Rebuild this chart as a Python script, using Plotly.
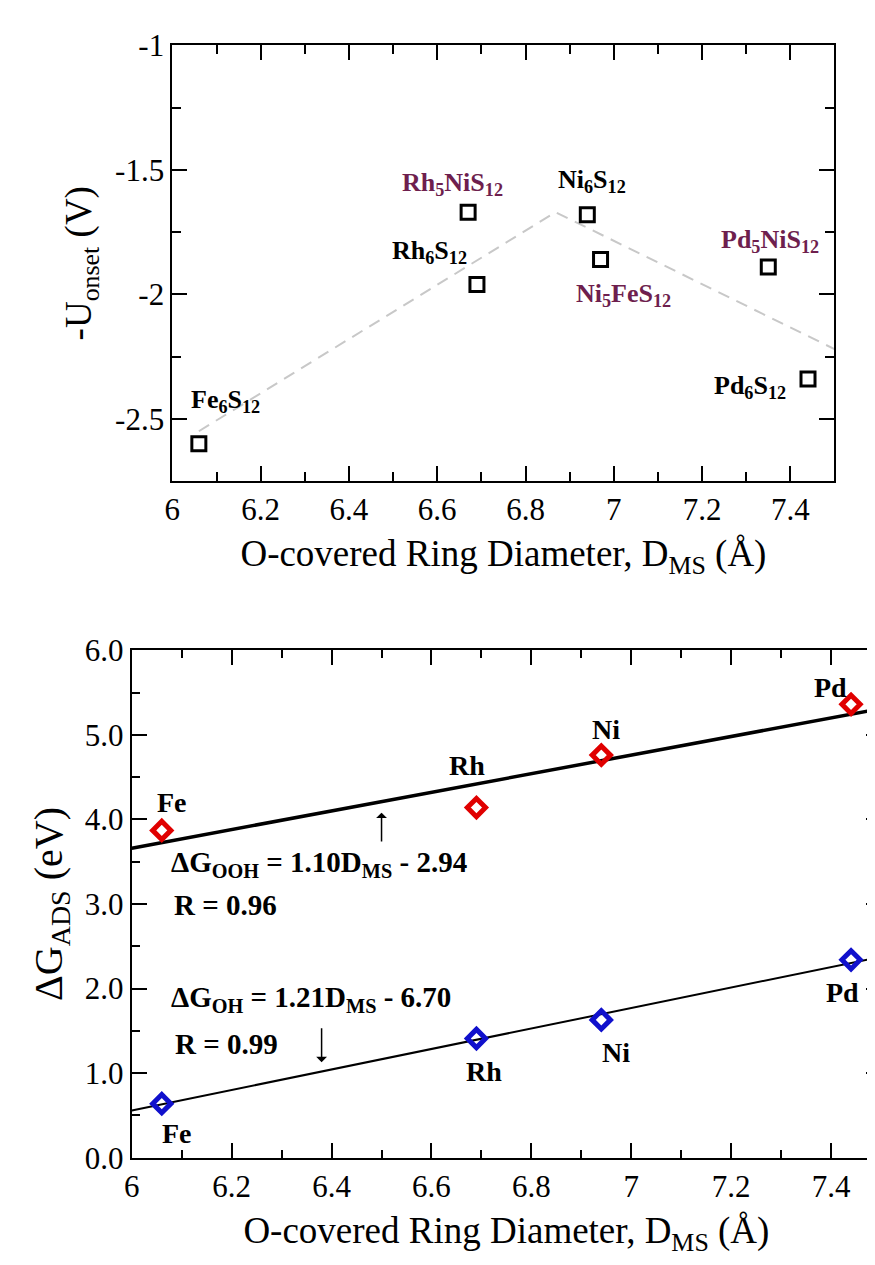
import plotly.graph_objects as go

W, H = 875, 1265

# ---------------- Top panel data ----------------
top_names = ["Fe<sub>6</sub>S<sub>12</sub>", "Rh<sub>5</sub>NiS<sub>12</sub>", "Rh<sub>6</sub>S<sub>12</sub>",
             "Ni<sub>6</sub>S<sub>12</sub>", "Ni<sub>5</sub>FeS<sub>12</sub>", "Pd<sub>5</sub>NiS<sub>12</sub>",
             "Pd<sub>6</sub>S<sub>12</sub>"]
top_dms = [6.06, 6.67, 6.69, 6.94, 6.97, 7.35, 7.44]
top_uonset = [-2.60, -1.67, -1.96, -1.68, -1.86, -1.89, -2.34]
top_doped = [False, True, False, False, True, True, False]
top_label_x = [6.12, 6.635, 6.583, 6.95, 7.022, 7.354, 7.309]
top_label_y = [-2.43, -1.555, -1.83, -1.543, -2.004, -1.785, -2.371]
volcano_x = [6.06, 6.868, 7.5]
volcano_y = [-2.55, -1.67, -2.22]
top_xticks = [6, 6.2, 6.4, 6.6, 6.8, 7, 7.2, 7.4]
top_xticktext = ["6", "6.2", "6.4", "6.6", "6.8", "7", "7.2", "7.4"]
top_yticks = [-1, -1.5, -2, -2.5]
top_yticktext = ["-1", "-1.5", "-2", "-2.5"]

# ---------------- Bottom panel data ----------------
metals = ["Fe", "Rh", "Ni", "Pd"]
bot_dms = [6.06, 6.69, 6.94, 7.44]
g_ooh = [3.87, 4.14, 4.76, 5.36]
g_oh = [0.64, 1.41, 1.63, 2.34]
ooh_label_x = [6.081, 6.671, 6.95, 7.398]
ooh_label_y = [4.195, 4.636, 5.06, 5.555]
oh_label_x = [6.09, 6.706, 6.97, 7.422]
oh_label_y = [0.287, 1.015, 1.245, 1.954]
fit_range = [6.0, 7.5]
ooh_fit = (1.10, -2.94)
oh_fit = (1.21, -6.70)
bot_yticks = [0, 1, 2, 3, 4, 5, 6]
bot_yticktext = ["0.0", "1.0", "2.0", "3.0", "4.0", "5.0", "6.0"]

SERIF = "Liberation Serif"
PURPLE = "#6e1f4e"
RED = "#e00000"
BLUE = "#1010cc"

fig = go.Figure()

# top: volcano guide + squares
fig.add_trace(go.Scatter(x=volcano_x, y=volcano_y, mode="lines",
                         line=dict(color="#c8c8c8", width=2, dash="12px,8px"),
                         xaxis="x", yaxis="y", hoverinfo="skip"))
fig.add_trace(go.Scatter(x=top_dms, y=top_uonset, mode="markers",
                         marker=dict(symbol="square-open", size=14, color="black",
                                     line=dict(width=3, color="black")),
                         xaxis="x", yaxis="y"))

# bottom: fits + diamonds
fig.add_trace(go.Scatter(x=fit_range, y=[ooh_fit[0] * v + ooh_fit[1] for v in fit_range],
                         mode="lines", line=dict(color="black", width=3.5),
                         xaxis="x2", yaxis="y2", hoverinfo="skip"))
fig.add_trace(go.Scatter(x=fit_range, y=[oh_fit[0] * v + oh_fit[1] for v in fit_range],
                         mode="lines", line=dict(color="black", width=2),
                         xaxis="x2", yaxis="y2", hoverinfo="skip"))
fig.add_trace(go.Scatter(x=bot_dms, y=g_ooh, mode="markers",
                         marker=dict(symbol="diamond-open", size=14, color=RED,
                                     line=dict(width=5, color=RED)),
                         xaxis="x2", yaxis="y2"))
fig.add_trace(go.Scatter(x=bot_dms, y=g_oh, mode="markers",
                         marker=dict(symbol="diamond-open", size=14, color=BLUE,
                                     line=dict(width=5, color=BLUE)),
                         xaxis="x2", yaxis="y2"))

ann = []
for name, lx, ly, doped in zip(top_names, top_label_x, top_label_y, top_doped):
    ann.append(dict(x=lx, y=ly, xref="x", yref="y", text="<b>" + name + "</b>", showarrow=False,
                    font=dict(family=SERIF, size=26, color=PURPLE if doped else "black")))
for m, lx, ly in zip(metals, ooh_label_x, ooh_label_y):
    ann.append(dict(x=lx, y=ly, xref="x2", yref="y2", text="<b>" + m + "</b>", showarrow=False,
                    font=dict(family=SERIF, size=28, color="black")))
for m, lx, ly in zip(metals, oh_label_x, oh_label_y):
    ann.append(dict(x=lx, y=ly, xref="x2", yref="y2", text="<b>" + m + "</b>", showarrow=False,
                    font=dict(family=SERIF, size=28, color="black")))

eq_font = dict(family=SERIF, size=29, color="black")
ann += [
    dict(x=6.075, y=3.47, xref="x2", yref="y2", xanchor="left", showarrow=False, font=eq_font,
         text="<b>ΔG<sub>OOH</sub> = 1.10D<sub>MS</sub> - 2.94</b>"),
    dict(x=6.081, y=2.99, xref="x2", yref="y2", xanchor="left", showarrow=False, font=eq_font,
         text="<b>R = 0.96</b>"),
    dict(x=6.075, y=1.877, xref="x2", yref="y2", xanchor="left", showarrow=False, font=eq_font,
         text="<b>ΔG<sub>OH</sub> = 1.21D<sub>MS</sub> - 6.70</b>"),
    dict(x=6.083, y=1.345, xref="x2", yref="y2", xanchor="left", showarrow=False, font=eq_font,
         text="<b>R = 0.99</b>"),
    # arrows
    dict(x=6.50, y=4.08, ax=6.50, ay=3.72, xref="x2", yref="y2", axref="x2", ayref="y2",
         text="", showarrow=True, arrowhead=1, arrowsize=1.2, arrowwidth=1.5, arrowcolor="black"),
    dict(x=6.38, y=1.13, ax=6.38, ay=1.55, xref="x2", yref="y2", axref="x2", ayref="y2",
         text="", showarrow=True, arrowhead=1, arrowsize=1.2, arrowwidth=1.5, arrowcolor="black"),
]

tickfont = dict(family=SERIF, size=31, color="black")
title_font = dict(family=SERIF, size=37, color="black")

def axis_common(**kw):
    d = dict(showline=True, linecolor="black", linewidth=2, mirror="allticks",
             ticks="inside", ticklen=15, tickwidth=2, tickcolor="black",
             showgrid=False, zeroline=False, tickfont=tickfont)
    d.update(kw)
    return d

xtitle = "O-covered Ring Diameter, D<sub>MS</sub> (Å)"

fig.update_layout(
    width=W, height=H, margin=dict(l=0, r=0, t=0, b=0),
    paper_bgcolor="white", plot_bgcolor="white", showlegend=False,
    font=dict(family=SERIF, color="black"),
    xaxis=axis_common(domain=[158 / W, 827 / W], range=[6, 7.5], anchor="y",
                      tickvals=top_xticks, ticktext=top_xticktext,
                      minor=dict(dtick=0.1, tick0=6, ticks="inside", ticklen=9, tickwidth=2, tickcolor="black"),
                      title=dict(text=xtitle, font=title_font, standoff=14)),
    yaxis=axis_common(domain=[(H - 469) / H, (H - 21) / H], range=[-2.75, -1], anchor="x",
                      tickvals=top_yticks, ticktext=top_yticktext,
                      minor=dict(dtick=0.25, tick0=-1, ticks="inside", ticklen=9, tickwidth=2, tickcolor="black"),
                      title=dict(text="-U<sub>onset</sub> (V)", font=title_font, standoff=12)),
    xaxis2=axis_common(domain=[117 / W, 874 / W], range=[6, 7.5], anchor="y2",
                       tickvals=top_xticks, ticktext=top_xticktext,
                       minor=dict(dtick=0.1, tick0=6, ticks="inside", ticklen=8, tickwidth=2, tickcolor="black"),
                       title=dict(text=xtitle, font=title_font, standoff=14)),
    yaxis2=axis_common(domain=[(H - 1165) / H, (H - 643) / H], range=[0, 6], anchor="x2",
                       tickvals=bot_yticks, ticktext=bot_yticktext,
                       minor=dict(dtick=0.5, tick0=0, ticks="inside", ticklen=8, tickwidth=2, tickcolor="black"),
                       title=dict(text="ΔG<sub>ADS</sub> (eV)", font=dict(family=SERIF, size=40, color="black"),
                                  standoff=10)),
    annotations=ann,
)

fig.write_html("out.html")
